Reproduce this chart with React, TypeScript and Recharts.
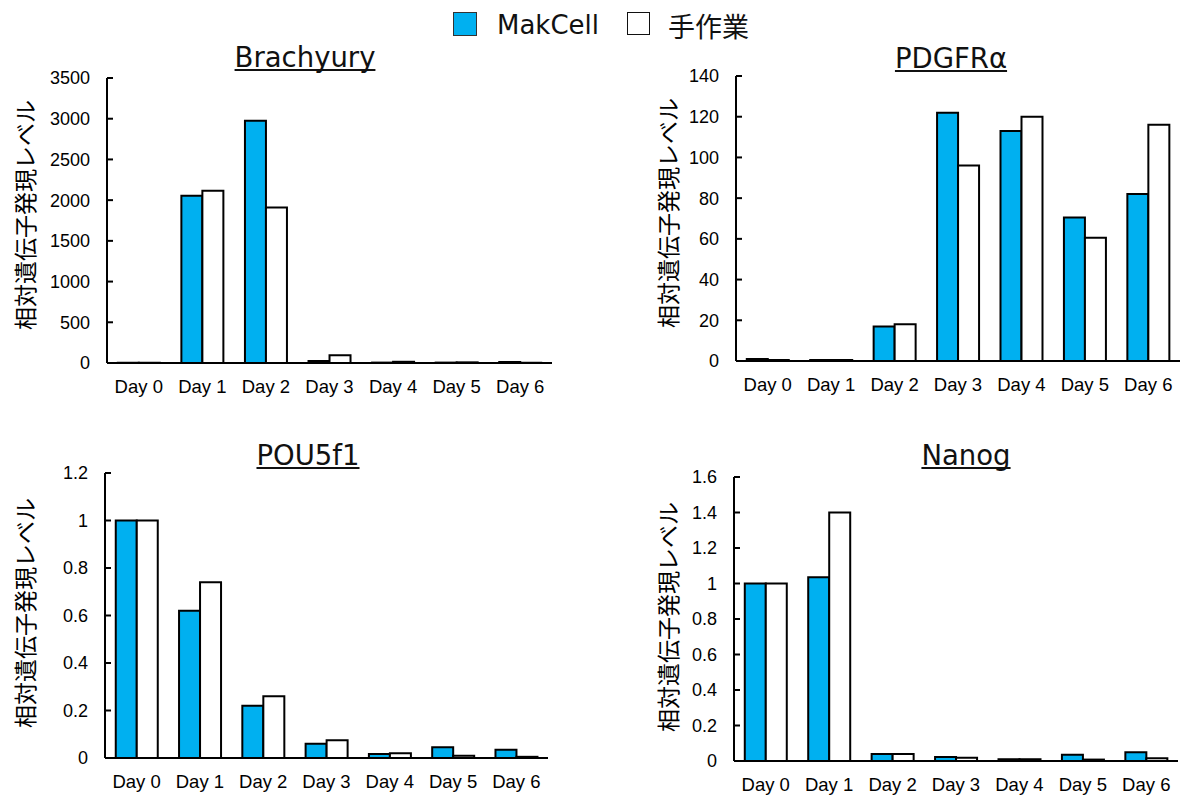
import React from "react";
import { BarChart, Bar, XAxis, YAxis, Label } from "recharts";

const days = ["Day 0", "Day 1", "Day 2", "Day 3", "Day 4", "Day 5", "Day 6"];

const brachyuryMak = [3, 2055, 2975, 25, 5, 5, 12];
const brachyuryManual = [3, 2115, 1910, 95, 15, 8, 3];
const brachyuryTicks = [0, 500, 1000, 1500, 2000, 2500, 3000, 3500];

const pdgfraMak = [1, 0.5, 17, 122, 113, 70.5, 82];
const pdgfraManual = [0.5, 0.5, 18, 96, 120, 60.5, 116];
const pdgfraTicks = [0, 20, 40, 60, 80, 100, 120, 140];

const pou5f1Mak = [1, 0.62, 0.22, 0.06, 0.017, 0.045, 0.035];
const pou5f1Manual = [1, 0.74, 0.26, 0.075, 0.02, 0.01, 0.005];
const pou5f1Ticks = [0, 0.2, 0.4, 0.6, 0.8, 1, 1.2];

const nanogMak = [1, 1.035, 0.04, 0.023, 0.01, 0.035, 0.05];
const nanogManual = [1, 1.4, 0.04, 0.019, 0.01, 0.008, 0.015];
const nanogTicks = [0, 0.2, 0.4, 0.6, 0.8, 1, 1.2, 1.4, 1.6];

const CYAN = "#00B0F0";
const TICK_FONT = "'Liberation Sans', Arial, sans-serif";
const TITLE_FONT = "'DejaVu Sans', Verdana, sans-serif";
const JP_FONT = "'Noto Sans CJK JP', sans-serif";
const Y_LABEL = "相対遺伝子発現レベル";

interface PanelProps {
  title: string;
  mak: number[];
  manual: number[];
  ticks: number[];
  plot: [number, number, number, number];
  titleX: number;
  titleY: number;
  labelX: number;
  labelY: number;
}

function Panel({ title, mak, manual, ticks, plot, titleX, titleY, labelX, labelY }: PanelProps) {
  const [x0, y0, x1, y1] = plot;
  const data = days.map((day, i) => ({ day, mak: mak[i], manual: manual[i] }));
  const left = x0 - 107;
  const top = y0 - 40;
  const width = x1 - x0 + 117;
  const height = y1 - y0 + 80;
  const line = { stroke: "#000", strokeWidth: 2 };

  return (
    <>
      <div
        style={{
          position: "absolute",
          left: titleX - 150,
          width: 300,
          top: titleY - 18,
          lineHeight: "36px",
          textAlign: "center",
          fontSize: 27.5,
          fontFamily: TITLE_FONT,
          textDecoration: "underline",
          textDecorationSkipInk: "none",
          color: "#111",
        }}
      >
        {title}
      </div>
      <div style={{ position: "absolute", left, top }}>
        <BarChart
          width={width}
          height={height}
          data={data}
          margin={{ top: 40, right: 10, left: 47, bottom: 0 }}
          barCategoryGap="17%"
          barGap={0}
        >
          <XAxis
            dataKey="day"
            height={40}
            interval={0}
            tickLine={false}
            tickSize={0}
            tickMargin={17}
            axisLine={line}
            tick={{ fill: "#000", fontSize: 18.5, fontFamily: TICK_FONT }}
          />
          <XAxis xAxisId="top" orientation="top" dataKey="day" height={0} tick={false} tickLine={false} axisLine={line} />
          <YAxis
            width={60}
            domain={[0, ticks[ticks.length - 1]]}
            ticks={ticks}
            interval={0}
            tickSize={-6}
            tickMargin={23}
            tickLine={line}
            axisLine={line}
            tick={{ fill: "#000", fontSize: 18, fontFamily: TICK_FONT }}
          >
            <Label
              content={(props: any) => {
                const vb = props.viewBox;
                const cx = vb.x + vb.width - (x0 - labelX);
                const cy = labelY - top;
                return (
                  <text
                    x={cx}
                    y={cy}
                    transform={`rotate(-90 ${cx} ${cy})`}
                    textAnchor="middle"
                    dominantBaseline="central"
                    fontSize={23}
                    fontFamily={JP_FONT}
                    fill="#000"
                  >
                    {Y_LABEL}
                  </text>
                );
              }}
            />
          </YAxis>
          <YAxis yAxisId="right" orientation="right" width={0} tick={false} tickLine={false} axisLine={line} />
          <Bar dataKey="mak" name="MakCell" fill={CYAN} stroke="#000" strokeWidth={2} isAnimationActive={false} />
          <Bar dataKey="manual" name="手作業" fill="#fff" stroke="#000" strokeWidth={2} isAnimationActive={false} />
        </BarChart>
      </div>
    </>
  );
}

export default function App() {
  return (
    <div
      style={{
        position: "absolute",
        left: 0,
        top: 0,
        width: 1183,
        height: 795,
        background: "#fff",
        overflow: "hidden",
      }}
    >
      {/* legend */}
      <div style={{ position: "absolute", left: 453, top: 12, width: 22, height: 22, background: CYAN, border: "1px solid #333" }} />
      <div style={{ position: "absolute", left: 497, top: 8, fontSize: 26, lineHeight: "34px", fontFamily: TITLE_FONT, color: "#111" }}>
        MakCell
      </div>
      <div style={{ position: "absolute", left: 627, top: 12, width: 21, height: 21, background: "#fff", border: "1.5px solid #111" }} />
      <div style={{ position: "absolute", left: 668, top: 8, fontSize: 27, lineHeight: "36px", fontFamily: JP_FONT, color: "#111" }}>
        手作業
      </div>

      <Panel
        title="Brachyury"
        mak={brachyuryMak}
        manual={brachyuryManual}
        ticks={brachyuryTicks}
        plot={[107, 78, 552, 363]}
        titleX={305}
        titleY={57}
        labelX={24}
        labelY={215}
      />
      <Panel
        title="PDGFRα"
        mak={pdgfraMak}
        manual={pdgfraManual}
        ticks={pdgfraTicks}
        plot={[736, 76, 1180, 361]}
        titleX={951}
        titleY={58}
        labelX={667}
        labelY={213}
      />
      <Panel
        title="POU5f1"
        mak={pou5f1Mak}
        manual={pou5f1Manual}
        ticks={pou5f1Ticks}
        plot={[105, 473, 548, 758]}
        titleX={308}
        titleY={455}
        labelX={24}
        labelY={613}
      />
      <Panel
        title="Nanog"
        mak={nanogMak}
        manual={nanogManual}
        ticks={nanogTicks}
        plot={[734, 477, 1178, 761]}
        titleX={966}
        titleY={455}
        labelX={667}
        labelY={617}
      />
    </div>
  );
}
